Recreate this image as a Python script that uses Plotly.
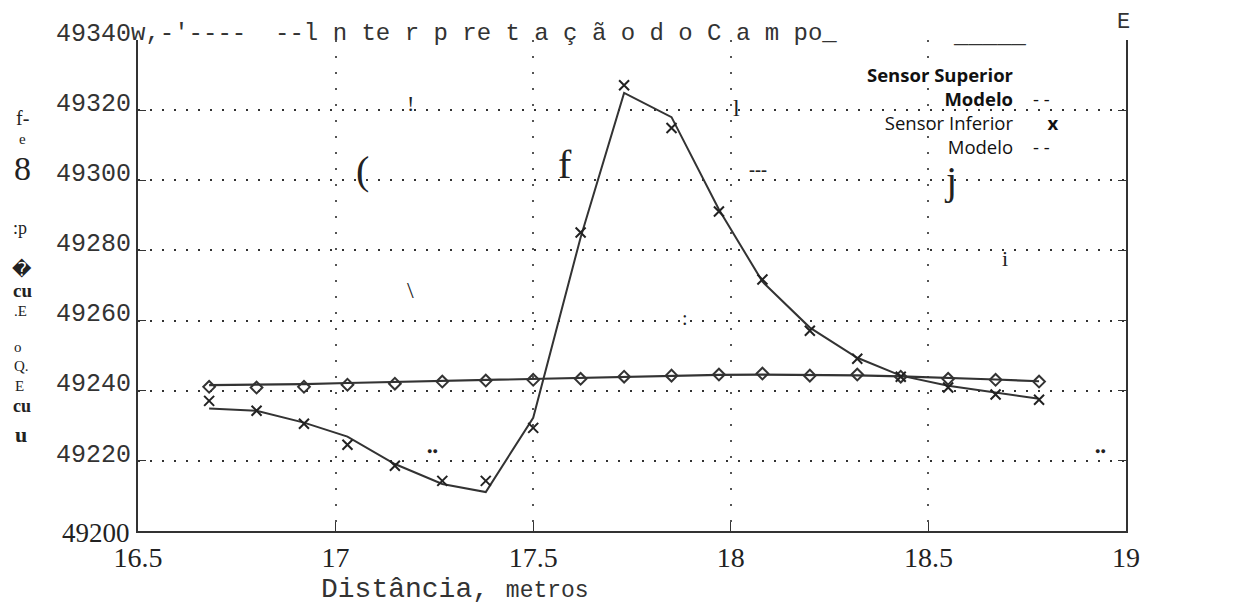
import plotly.graph_objects as go

# ---------------- data ----------------
distance = [16.68, 16.80, 16.92, 17.03, 17.15, 17.27, 17.38, 17.50, 17.62, 17.73,
            17.85, 17.97, 18.08, 18.20, 18.32, 18.43, 18.55, 18.67, 18.78]

superior_obs = [49241.1, 49240.9, 49241.1, 49241.7, 49242.0, 49242.6, 49242.9, 49243.1, 49243.4, 49244.0,
                49244.3, 49244.6, 49244.9, 49244.3, 49244.6, 49244.0, 49243.4, 49243.1, 49242.6]
superior_model = [49241.6, 49241.7, 49241.9, 49242.2, 49242.5, 49242.8, 49243.1, 49243.4, 49243.7, 49244.0,
                  49244.3, 49244.5, 49244.6, 49244.6, 49244.4, 49244.1, 49243.7, 49243.2, 49242.7]

inferior_obs = [49237.1, 49234.3, 49230.6, 49224.6, 49218.6, 49214.3, 49214.3, 49229.4, 49285.1, 49327.1,
                49314.9, 49291.1, 49271.7, 49257.1, 49249.1, 49244.0, 49240.9, 49238.9, 49237.4]
inferior_model = [49234.9, 49234.3, 49230.9, 49226.9, 49219.1, 49213.4, 49211.1, 49232.3, 49283.7, 49324.9,
                  49318.0, 49291.7, 49271.1, 49258.0, 49249.4, 49244.3, 49241.4, 49239.4, 49237.7]

x_ticks = [16.5, 17, 17.5, 18, 18.5, 19]
x_ticktext = ["16.5", "17", "17.5", "18", "18.5", "19"]
y_ticks = [49220, 49240, 49260, 49280, 49300, 49320, 49340]
y_ticktext = ["49220", "49240", "49260", "49280", "49300", "49320", "49340"]

legend_labels = ["<b>Sensor Superior</b>", "<b>Modelo</b>", "Sensor Inferior", "Modelo"]
legend_symbols = ["\u00a0", "- -", "\u00a0\u00a0\u00a0<b>x</b>", "- -"]

# ---------------- layout helpers ----------------
L, R, T, B = 138, 1126, 40, 531


def P(px, py):
    return (px - L) / (R - L), (B - py) / (B - T)


fig = go.Figure()

fig.add_trace(go.Scatter(x=distance, y=superior_model, mode="lines",
                         line=dict(color="#333333", width=2.2), showlegend=False))
fig.add_trace(go.Scatter(x=distance, y=superior_obs, mode="markers",
                         marker=dict(symbol="diamond-open", size=9, color="#333333",
                                     line=dict(width=2, color="#333333")), showlegend=False))
fig.add_trace(go.Scatter(x=distance, y=inferior_model, mode="lines",
                         line=dict(color="#333333", width=2), showlegend=False))
fig.add_trace(go.Scatter(x=distance, y=inferior_obs, mode="markers",
                         marker=dict(symbol="x-thin", size=10, color="#222222",
                                     line=dict(width=2, color="#222222")), showlegend=False))

annotations = []


def text(px, py, s, size=20, family="Liberation Serif", xanchor="center", color="#222222",
         yanchor="middle", align="center"):
    x, y = P(px, py)
    annotations.append(dict(x=x, y=y, xref="paper", yref="paper", text=s, showarrow=False,
                            xanchor=xanchor, yanchor=yanchor, align=align, borderpad=0,
                            font=dict(size=size, family=family, color=color)))


# title (as printed)
text(130, 33, "w,-'----  --l n te r p re t a ç ã o d o C a m po_", size=24,
     family="Liberation Mono", xanchor="left", color="#333333")
text(952, 36, "_____", size=24, family="Liberation Mono", xanchor="left", color="#333333")
text(1123, 22, "E", size=22, family="Liberation Mono", color="#333333")

# 49200 label (serif)
text(131, 533, "49200", size=27, family="Times New Roman, Liberation Serif, serif", xanchor="right")

# x axis title
text(455, 589, "Distância, <span style='font-size:23px'>metros</span>", size=28,
     family="Liberation Mono", color="#333333")

# y axis title (as printed, vertical garble)
for (px, py, s, sz) in [(22, 118, "f-", 20), (22, 139, "e", 15), (22, 168, "8", 34),
                        (20, 228, ":p", 18), (22, 269, "\ufffd", 19), (22, 290, "<b>cu</b>", 19),
                        (20, 311, ".E", 15), (18, 347, "o", 15), (21, 366, "Q.", 15),
                        (19, 386, "E", 15), (22, 406, "<b>cu</b>", 18), (21, 434, "<b>u</b>", 22)]:
    fam = "DejaVu Sans" if s == "\ufffd" else "Liberation Serif"
    text(px, py, s, size=sz, family=fam)

# legend (text only, as in reference)
text(1015, 61, "<br>".join(legend_labels), size=18.5, family="Open Sans",
     xanchor="right", yanchor="top", align="right", color="#111111")
text(1032, 61, "<br>".join(legend_symbols), size=18.5, family="Open Sans",
     xanchor="left", yanchor="top", align="left", color="#111111")

# scanning artefacts inside plot
for (px, py, s, sz) in [(410, 103, "!", 22), (362, 170, "(", 40), (565, 164, "f", 40),
                        (736, 108, "l", 24), (758, 170, "<b>---</b>", 18), (950, 180, "j", 40),
                        (410, 290, "\\", 24), (1005, 258, "i", 22), (432, 451, "●●", 9),
                        (1100, 451, "●●", 9), (685, 318, ":", 20)]:
    text(px, py, s, size=sz)

fig.update_layout(
    width=1248, height=608,
    margin=dict(l=L, r=1248 - R, t=T, b=608 - B),
    paper_bgcolor="white", plot_bgcolor="white",
    annotations=annotations,
    xaxis=dict(range=[16.5, 19], tickvals=x_ticks, ticktext=x_ticktext,
               showline=True, linecolor="#333333", linewidth=2, mirror=False,
               ticks="inside", ticklen=9, tickcolor="#333333",
               tickfont=dict(family="Times New Roman, Liberation Serif, serif", size=28, color="#222222"),
               showgrid=True, gridcolor="#555555", gridwidth=1.5, griddash="2px,14px",
               zeroline=False),
    yaxis=dict(range=[49200, 49340], tickvals=y_ticks, ticktext=y_ticktext,
               showline=True, linecolor="#333333", linewidth=2, mirror="ticks",
               ticks="inside", ticklen=8, tickcolor="#333333", ticklabelshift=-8,
               tickfont=dict(family="Liberation Mono", size=25, color="#333333"),
               showgrid=True, gridcolor="#333333", gridwidth=2.2, griddash="2px,10px",
               zeroline=False),
)

fig.write_html("out.html")
